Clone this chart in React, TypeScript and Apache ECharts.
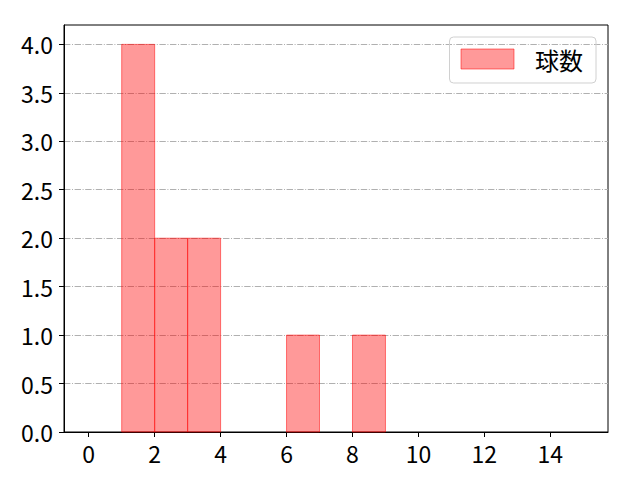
import React, { useEffect, useRef } from "react";
import * as echarts from "echarts";

// histogram bins (left / right edges) and counts
const binStarts = [0, 1, 2, 3, 4, 5, 6, 7, 8, 9, 10, 11, 12, 13, 14];
const binEnds = [1, 2, 3, 4, 5, 6, 7, 8, 9, 10, 11, 12, 13, 14, 15];
const counts = [0, 4, 2, 2, 0, 0, 1, 0, 1, 0, 0, 0, 0, 0, 0];
const xTicks = [0, 2, 4, 6, 8, 10, 12, 14];
const yTicks = [0, 0.5, 1, 1.5, 2, 2.5, 3, 3.5, 4];
const seriesName = "球数";

const FONT = "'Noto Sans CJK JP', 'DejaVu Sans', sans-serif";

const App = () => {
  const chartRef = useRef<HTMLDivElement | null>(null);

  useEffect(() => {
    if (!chartRef.current) return;
    document.body.style.margin = "0";
    const chart = echarts.init(chartRef.current, null, { renderer: "svg" });

    const data = binStarts.map((s, i) => [s, binEnds[i], counts[i]]);

    const options = {
      animation: false,
      textStyle: { fontFamily: FONT },
      grid: {
        left: 64,
        right: 32,
        top: 25,
        bottom: 48,
        show: true,
        borderColor: "#000",
        borderWidth: 1,
      },
      legend: {
        right: 44,
        top: 37,
        padding: [10, 13, 12, 11],
        borderColor: "#d0d0d0",
        borderWidth: 1,
        borderRadius: 4,
        itemWidth: 53,
        itemHeight: 20,
        textStyle: { fontSize: 24, color: "#000", fontFamily: FONT, padding: [0, 0, 0, 16] },
        data: [
          {
            name: seriesName,
            icon: "rect",
            itemStyle: { color: "rgba(255,0,0,0.4)", borderColor: "rgba(255,0,0,0.5)", borderWidth: 1 },
          },
        ],
      },
      xAxis: {
        type: "value",
        min: -0.75,
        max: 15.75,
        axisLine: { show: true, onZero: false, lineStyle: { color: "#000" } },
        axisTick: { show: true, length: 5, customValues: xTicks, lineStyle: { color: "#000" } },
        axisLabel: {
          customValues: xTicks,
          fontSize: 23,
          color: "#000",
          fontFamily: FONT,
          margin: 9,
        },
        splitLine: { show: false },
      },
      yAxis: {
        type: "value",
        min: 0,
        max: 4.2,
        axisLine: { show: true, onZero: false, lineStyle: { color: "#000" } },
        axisTick: { show: true, length: 5, customValues: yTicks, lineStyle: { color: "#000" } },
        axisLabel: {
          customValues: yTicks,
          fontSize: 23,
          color: "#000",
          fontFamily: FONT,
          margin: 11,
          formatter: (v: number) => v.toFixed(1),
        },
        splitLine: {
          show: true,
          lineStyle: { color: "#b0b0b0", width: 1, type: [6.4, 1.6, 1, 1.6] },
        },
      },
      series: [
        {
          name: seriesName,
          type: "custom",
          itemStyle: { color: "rgba(255,0,0,0.4)" },
          encode: { x: [0, 1], y: 2 },
          data,
          renderItem: (params: any, api: any) => {
            const x0 = api.value(0);
            const x1 = api.value(1);
            const h = api.value(2);
            if (!h) return null;
            const p0 = api.coord([x0, h]);
            const p1 = api.coord([x1, 0]);
            return {
              type: "rect",
              shape: { x: p0[0], y: p0[1], width: p1[0] - p0[0], height: p1[1] - p0[1] },
              style: { fill: "rgba(255,0,0,0.4)", stroke: "rgba(255,0,0,0.5)", lineWidth: 1 },
            };
          },
        },
      ],
    };

    chart.setOption(options);
    return () => {
      chart.dispose();
    };
  }, []);

  return <div style={{ width: "640px", height: "480px" }} ref={chartRef}></div>;
};

export default App;
